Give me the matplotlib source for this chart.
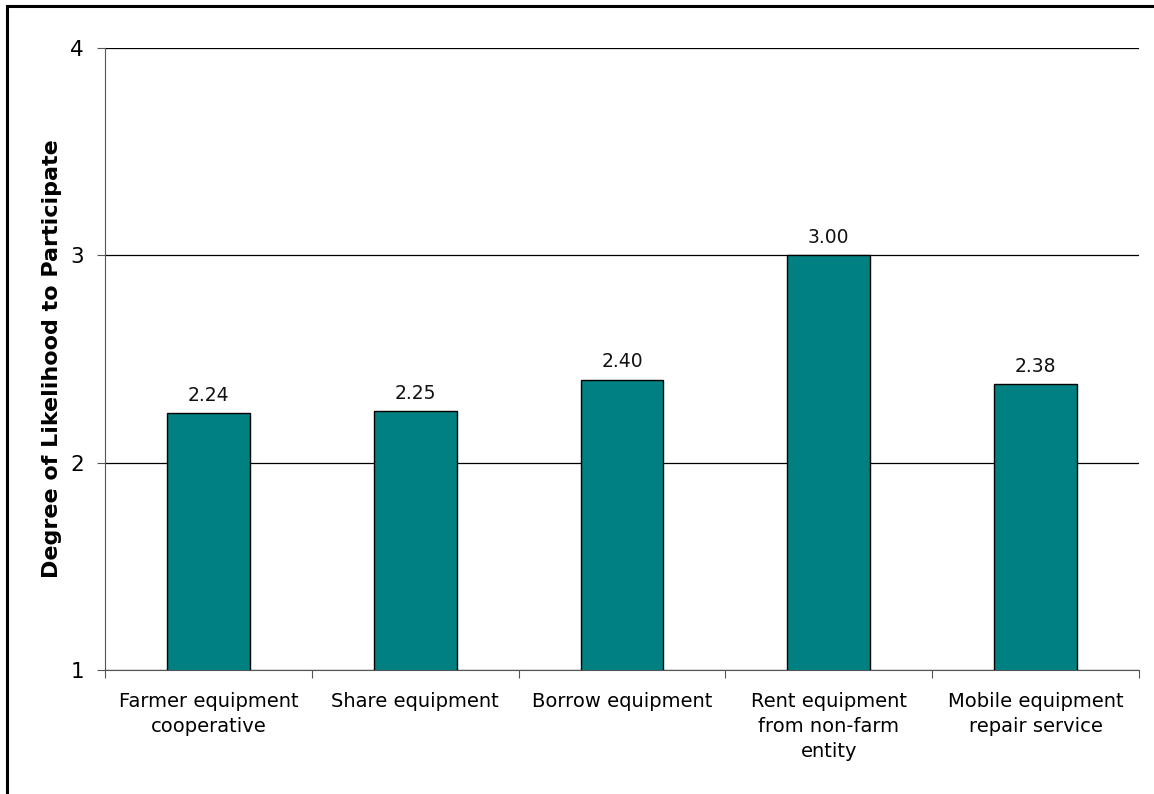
import matplotlib.pyplot as plt
from matplotlib.patches import Rectangle

categories = ["Farmer equipment\ncooperative", "Share equipment", "Borrow equipment",
              "Rent equipment\nfrom non-farm\nentity", "Mobile equipment\nrepair service"]
values = [2.24, 2.25, 2.40, 3.00, 2.38]
value_labels = ["2.24", "2.25", "2.40", "3.00", "2.38"]
yticks = [1, 2, 3, 4]

plt.rcParams['font.family'] = ['DejaVu Sans']

fig = plt.figure(figsize=(11.54, 7.94), dpi=100)
ax = fig.add_axes([105 / 1154, 1 - 670 / 794, (1139 - 105) / 1154, (670 - 48) / 794])

# outer frame (only top and left visible in the original)
fig.patches.append(Rectangle((6.5 / 1154, -0.1), 1.2, 1.1 - 6.5 / 794, transform=fig.transFigure,
                             fill=False, edgecolor='black', linewidth=2.2))

x = range(len(values))
ax.bar(x, values, width=0.4, bottom=0, color='#008080', edgecolor='black', linewidth=1, zorder=3)
for i, (v, lab) in enumerate(zip(values, value_labels)):
    ax.text(i, v + 0.04, lab, ha='center', va='bottom', fontsize=13.5, color='#111111')

ax.set_ylim(1, 4)
ax.set_xlim(-0.5, len(values) - 0.5)
ax.set_yticks(yticks)
ax.set_yticklabels([str(t) for t in yticks], fontsize=15.5)
ax.yaxis.grid(True, color='black', linewidth=0.9, zorder=0)
ax.set_axisbelow(True)

ax.set_xticks([i + 0.5 for i in range(-1, len(values))], minor=False)
ax.set_xticklabels([])
ax.set_xticks(list(x), minor=True)
ax.set_xticklabels(categories, minor=True, fontsize=14, linespacing=1.4)
ax.tick_params(axis='x', which='minor', length=0, pad=16)
ax.tick_params(axis='x', which='major', length=6, color='#555555', direction='out')
ax.tick_params(axis='y', length=6, color='#555555', direction='out', pad=9)

for s in ['top', 'right']:
    ax.spines[s].set_visible(False)
ax.spines['left'].set_color('#555555')
ax.spines['bottom'].set_color('#555555')

ax.set_ylabel("Degree of Likelihood to Participate", fontsize=16, fontweight='bold')
ax.yaxis.set_label_coords(-0.042, 0.5)

fig.savefig("out.png", dpi=100)
